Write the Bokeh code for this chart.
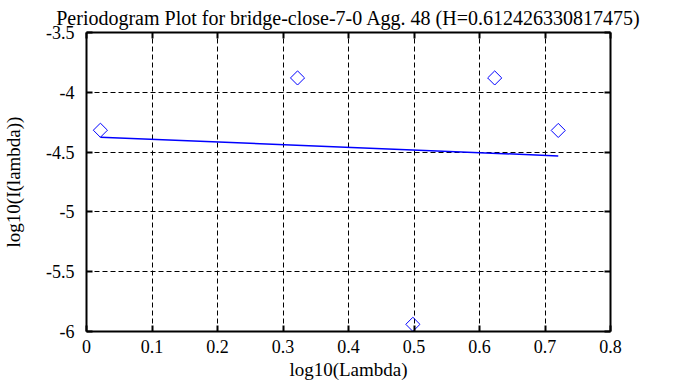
from bokeh.plotting import figure
from bokeh.models import LinearAxis, FixedTicker, Range1d, Grid, CustomJSTickFormatter
from bokeh.embed import file_html
from bokeh.resources import INLINE
import math

title_text = "Periodogram Plot for bridge-close-7-0 Agg. 48 (H=0.612426330817475)"
x_label = "log10(Lambda)"
y_label = "log10(I(lambda))"

log_lambda = [0.0212, 0.3222, 0.4983, 0.6232, 0.7202]
log_I = [-4.317, -3.88, -5.94, -3.88, -4.319]

fit_x = [0.0212, 0.7202]
fit_y = [-4.375, -4.532]

x_ticks = [0, 0.1, 0.2, 0.3, 0.4, 0.5, 0.6, 0.7, 0.8]
x_tick_labels = ["0", "0.1", "0.2", "0.3", "0.4", "0.5", "0.6", "0.7", "0.8"]
y_ticks = [-6, -5.5, -5, -4.5, -4, -3.5]
y_tick_labels = ["-6", "-5.5", "-5", "-4.5", "-4", "-3.5"]

FONT = "Liberation Serif"
TICK_FONT = "Times New Roman"

p = figure(width=684, height=384, output_backend="svg", toolbar_location=None,
           x_range=Range1d(0, 0.8), y_range=Range1d(-6, -3.5),
           x_axis_location=None, y_axis_location=None,
           min_border_left=83, min_border_right=74, min_border_top=31, min_border_bottom=53)

p.title.text = title_text
p.title.text_font = FONT
p.title.text_font_size = "20px"
p.title.text_font_style = "normal"
p.title.align = "center"
p.title.text_color = "black"
p.title.standoff = 8

def fmt(tvals, tlabels):
    return CustomJSTickFormatter(args=dict(tvals=tvals, tlabels=tlabels), code="""
        let best = 0, d = Infinity;
        for (let i = 0; i < tvals.length; i++) {
            const e = Math.abs(tvals[i] - tick);
            if (e < d) { d = e; best = i; }
        }
        return tlabels[best];
    """)

def make_axis(tvals, tlabels, label_text=None, show_labels=True):
    ax = LinearAxis(ticker=FixedTicker(ticks=tvals))
    ax.formatter = fmt(tvals, tlabels)
    ax.major_tick_in = 6
    ax.major_tick_out = 0
    ax.minor_tick_in = 0
    ax.minor_tick_out = 0
    ax.axis_line_width = 2
    ax.axis_line_color = "black"
    ax.major_tick_line_width = 2
    ax.major_tick_line_color = "black"
    ax.major_label_text_font = TICK_FONT
    ax.major_label_text_font_size = "18px" if show_labels else "0px"
    ax.major_label_text_font_style = "normal"
    ax.major_label_text_color = "black"
    if not show_labels:
        ax.major_label_text_alpha = 0
        ax.major_label_standoff = 0
    if label_text:
        ax.axis_label = label_text
        ax.axis_label_text_font = FONT
        ax.axis_label_text_font_size = "19px"
        ax.axis_label_text_font_style = "normal"
        ax.axis_label_text_color = "black"
    return ax

bottom = make_axis(x_ticks, x_tick_labels, x_label)
bottom.major_label_standoff = 8
bottom.axis_label_standoff = 3
left = make_axis(y_ticks, y_tick_labels, y_label)
left.major_label_standoff = 12
left.axis_label_standoff = 19
top = make_axis(x_ticks, x_tick_labels, show_labels=False)
right = make_axis(y_ticks, y_tick_labels)
right.formatter = CustomJSTickFormatter(code="return '';")
right.major_label_standoff = 0

p.add_layout(bottom, "below")
p.add_layout(left, "left")
p.add_layout(top, "above")
p.add_layout(right, "right")

p.xgrid.visible = False
p.ygrid.visible = False
gx = Grid(dimension=0, ticker=FixedTicker(ticks=x_ticks[1:-1]), grid_line_color="black",
          grid_line_dash="5 3", grid_line_width=1)
gy = Grid(dimension=1, ticker=FixedTicker(ticks=y_ticks[1:-1]), grid_line_color="black",
          grid_line_dash="5 3", grid_line_width=1)
p.add_layout(gx)
p.add_layout(gy)
p.outline_line_color = None

p.line(fit_x, fit_y, line_color="#0000ff", line_width=1.5)
p.scatter(log_lambda, log_I, marker="square", size=10, angle=math.pi / 4,
          fill_color=None, line_color="#0000ff", line_width=1)

open("out.html", "w").write(file_html(p, INLINE))
